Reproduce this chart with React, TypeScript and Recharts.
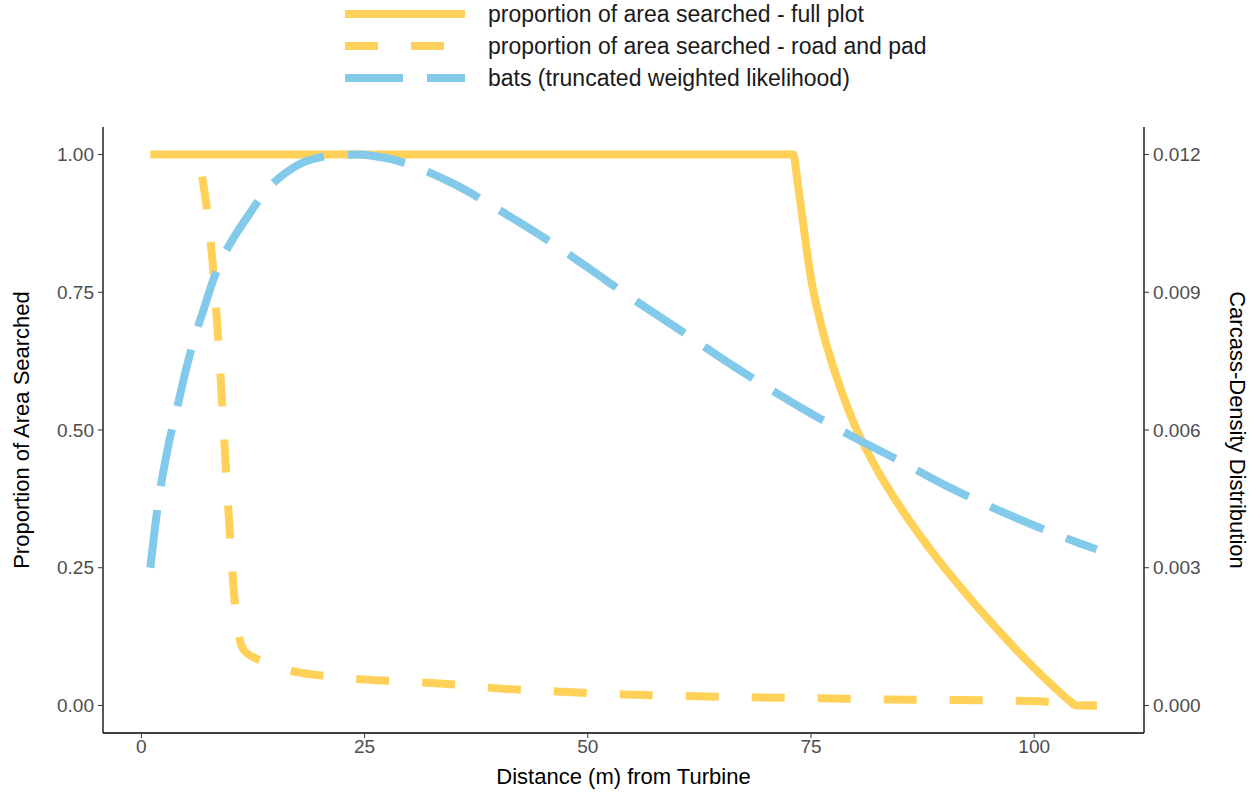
import React from 'react';
import { ComposedChart, Line, XAxis, YAxis, Legend } from 'recharts';

// full plot searched area, by distance
const fullDist = [1, 73, 73.5, 74, 74.5, 75, 76, 77, 78, 79, 80, 82, 84, 86, 88, 90, 92, 94, 96, 98, 100, 102, 104, 104.7, 107];
const fullProp = [1, 1, 0.95, 0.89, 0.83, 0.775, 0.7, 0.64, 0.59, 0.545, 0.505, 0.44, 0.385, 0.336, 0.291, 0.249, 0.21, 0.172, 0.136, 0.101, 0.068, 0.037, 0.008, 0, 0];

// road and pad searched area
const roadDist = [6.8, 7.5, 8, 8.5, 9, 9.5, 10, 10.5, 11, 11.5, 12.5, 14, 16, 18, 21, 25, 30, 35, 40, 47, 54, 61, 68, 76, 83, 90, 98, 102, 104, 105, 107];
const roadProp = [0.96, 0.88, 0.8, 0.69, 0.56, 0.42, 0.29, 0.18, 0.12, 0.1, 0.088, 0.078, 0.066, 0.059, 0.053, 0.047, 0.043, 0.038, 0.031, 0.025, 0.02, 0.017, 0.015, 0.013, 0.011, 0.01, 0.0085, 0.006, 0.002, 0, 0];

// bat carcass density (right axis)
const batDist = [1, 1.5, 2, 3, 4, 5, 6, 7, 8, 9, 10, 12, 14, 16, 18, 20, 22, 24, 26, 28, 30, 35, 40, 45, 50, 55, 60, 65, 70, 75, 80, 85, 90, 95, 100, 105, 107];
const batDensity = [0.003, 0.00384, 0.00456, 0.00564, 0.00648, 0.00732, 0.00804, 0.00864, 0.00924, 0.00972, 0.01008, 0.01068, 0.01122, 0.01158, 0.01182, 0.01194, 0.01199, 0.012, 0.01197, 0.0119, 0.01178, 0.01136, 0.0108, 0.0102, 0.00954, 0.00886, 0.00822, 0.00756, 0.00694, 0.00636, 0.00582, 0.00532, 0.0048, 0.00434, 0.00392, 0.00354, 0.0034];

const xTicks = [0, 25, 50, 75, 100];
const leftTicks = [0, 0.25, 0.5, 0.75, 1];
const rightTicks = [0, 0.003, 0.006, 0.009, 0.012];

const YELLOW = '#FFD158';
const BLUE = '#83C9EA';

const fullData = fullDist.map((x, i) => ({ x, y: fullProp[i] }));
const roadData = roadDist.map((x, i) => ({ x, y: roadProp[i] }));
const batData = batDist.map((x, i) => ({ x, y: batDensity[i] }));

const series = [
  { name: 'proportion of area searched - full plot', color: YELLOW, dash: undefined },
  { name: 'proportion of area searched - road and pad', color: YELLOW, dash: '33 33' },
  { name: 'bats (truncated weighted likelihood)', color: BLUE, dash: '58 24' },
];

const tickStyle = { fill: '#4d4d4d', fontSize: 19 };

const renderLegend = () => (
  <div>
    {series.map((s) => (
      <div key={s.name} style={{ display: 'flex', alignItems: 'center', height: 32 }}>
        <svg width={120} height={10} style={{ marginRight: 23 }}>
          <line x1={0} y1={5} x2={120} y2={5} stroke={s.color} strokeWidth={8} strokeDasharray={s.dash} />
        </svg>
        <span style={{ fontSize: 23, color: '#1a1a1a' }}>{s.name}</span>
      </div>
    ))}
  </div>
);

export default function App() {
  return (
    <div style={{ position: 'absolute', left: 0, top: 0, width: 1257, height: 792, background: '#fff' }}>
      <ComposedChart
        width={1257}
        height={792}
        margin={{ top: 127, right: 0, bottom: 0, left: 0 }}
        style={{ fontFamily: '"Liberation Sans", Arial, sans-serif' }}
      >
        <XAxis
          dataKey="x"
          type="number"
          domain={[-4.3, 112.3]}
          ticks={xTicks}
          allowDataOverflow
          height={59}
          tick={tickStyle}
          tickSize={5}
          tickMargin={2}
          tickLine={{ stroke: '#333' }}
          axisLine={{ stroke: '#000', strokeWidth: 1.3 }}
          label={{ value: 'Distance (m) from Turbine', position: 'center', dy: 14, fill: '#000', fontSize: 22 }}
        />
        <XAxis
          xAxisId="top"
          dataKey="x"
          type="number"
          orientation="top"
          domain={[-4.3, 112.3]}
          height={0}
          tick={false}
          tickLine={false}
          axisLine={{ stroke: '#000', strokeWidth: 1.3 }}
        />
        <YAxis
          yAxisId="left"
          type="number"
          domain={[-0.05, 1.05]}
          ticks={leftTicks}
          allowDataOverflow
          width={103}
          tick={tickStyle}
          tickFormatter={(v: number) => v.toFixed(2)}
          tickSize={5}
          tickMargin={4}
          tickLine={{ stroke: '#333' }}
          axisLine={{ stroke: '#000', strokeWidth: 1.3 }}
          label={{ value: 'Proportion of Area Searched', angle: -90, position: 'center', dx: -30, fill: '#000', fontSize: 22 }}
        />
        <YAxis
          yAxisId="right"
          orientation="right"
          type="number"
          domain={[-0.0006, 0.0126]}
          ticks={rightTicks}
          allowDataOverflow
          width={113}
          tick={tickStyle}
          tickFormatter={(v: number) => v.toFixed(3)}
          tickSize={5}
          tickMargin={4}
          tickLine={{ stroke: '#333' }}
          axisLine={{ stroke: '#000', strokeWidth: 1.3 }}
          label={{ value: 'Carcass-Density Distribution', angle: 90, position: 'center', dx: 37, fill: '#000', fontSize: 22 }}
        />
        <Line
          yAxisId="left"
          data={fullData}
          dataKey="y"
          type="monotone"
          stroke={YELLOW}
          strokeWidth={8}
          dot={false}
          activeDot={false}
          isAnimationActive={false}
        />
        <Line
          yAxisId="left"
          data={roadData}
          dataKey="y"
          type="monotone"
          stroke={YELLOW}
          strokeWidth={8}
          strokeDasharray="33 33"
          dot={false}
          activeDot={false}
          isAnimationActive={false}
        />
        <Line
          yAxisId="right"
          data={batData}
          dataKey="y"
          type="monotone"
          stroke={BLUE}
          strokeWidth={8}
          strokeDasharray="58 24"
          dot={false}
          activeDot={false}
          isAnimationActive={false}
        />
        <Legend
          layout="vertical"
          align="center"
          verticalAlign="middle"
          content={renderLegend}
          wrapperStyle={{ top: -2, left: 345, width: 700 }}
        />
      </ComposedChart>
    </div>
  );
}
